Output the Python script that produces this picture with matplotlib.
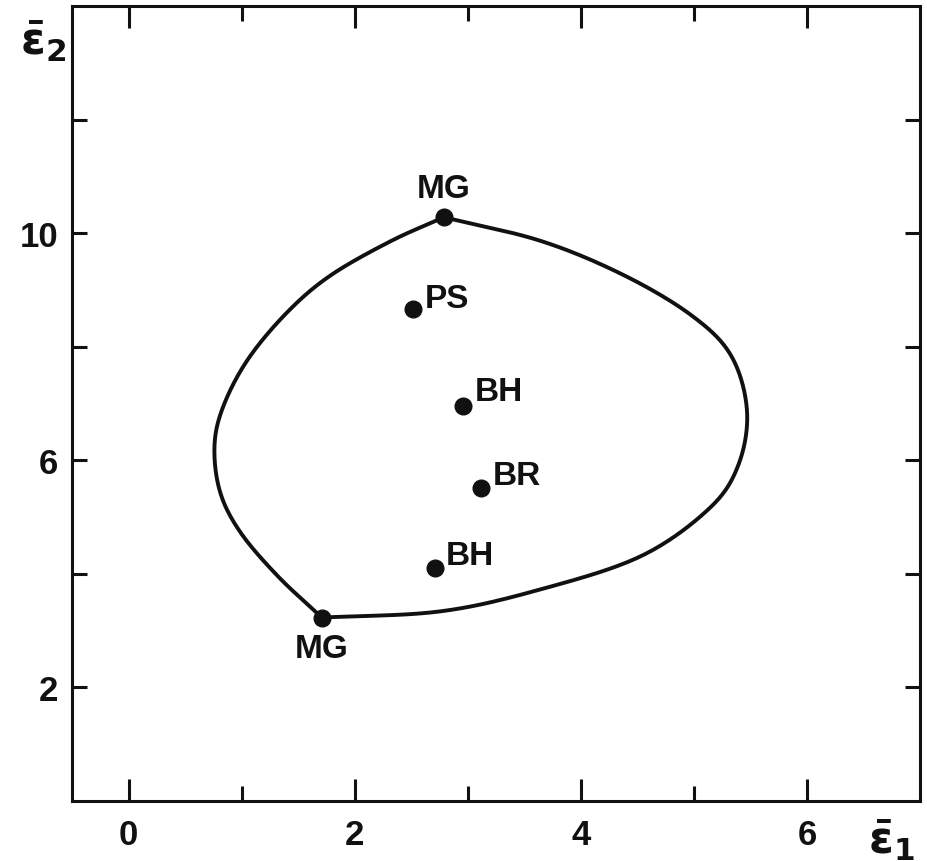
import numpy as np
import matplotlib.pyplot as plt

plt.rcParams['font.family'] = ['Liberation Sans', 'DejaVu Sans']
plt.rcParams['font.weight'] = 'bold'
plt.rcParams['mathtext.fontset'] = 'dejavusans'

# boundary curve; two branches meeting at the MG corners
left_x = [1.71, 1.32, 0.99, 0.81, 0.76, 0.84, 1.06, 1.41, 1.79, 2.32, 2.79]
left_y = [3.23, 3.96, 4.73, 5.44, 6.25, 6.96, 7.79, 8.62, 9.26, 9.86, 10.28]
right_x = [2.79, 3.65, 4.38, 4.98, 5.33, 5.47, 5.39, 5.13, 4.53, 3.65, 2.76, 1.71]
right_y = [10.28, 9.86, 9.26, 8.55, 7.84, 6.86, 5.90, 5.14, 4.31, 3.73, 3.34, 3.23]

# labelled points
pt_names = ['MG', 'PS', 'BH', 'BR', 'BH', 'MG']
pt_x = [2.79, 2.52, 2.96, 3.12, 2.71, 1.71]
pt_y = [10.28, 8.67, 6.96, 5.51, 4.10, 3.23]
offsets = [(0, 21), (8, 7), (8, 10), (8, 9), (8, 9), (0, -22)]
aligns = ['center', 'left', 'left', 'left', 'left', 'center']


def smooth(xs, ys, n=20):
    # catmull-rom through the read points, only to draw the line smoothly
    p = np.column_stack([xs, ys])
    p = np.vstack([2 * p[0] - p[1], p, 2 * p[-1] - p[-2]])
    out = []
    t = np.linspace(0, 1, n, endpoint=False)[:, None]
    for i in range(1, len(p) - 2):
        p0, p1, p2, p3 = p[i - 1], p[i], p[i + 1], p[i + 2]
        out.append(0.5 * (2 * p1 + (-p0 + p2) * t + (2 * p0 - 5 * p1 + 4 * p2 - p3) * t ** 2
                          + (-p0 + 3 * p1 - 3 * p2 + p3) * t ** 3))
    out.append(p[-2][None, :])
    out = np.vstack(out)
    return out[:, 0], out[:, 1]


fig = plt.figure(figsize=(9.28, 8.62), dpi=100)
ax = fig.add_axes([0.0776, 0.0696, 0.9138, 0.9223])

for bx, by in [(left_x, left_y), (right_x, right_y)]:
    sx, sy = smooth(bx, by)
    ax.plot(sx, sy, color='#111111', lw=2.8, solid_capstyle='round')
ax.plot(pt_x, pt_y, 'o', color='#111111', ms=12)
for name, x, y, off, ha in zip(pt_names, pt_x, pt_y, offsets, aligns):
    ax.annotate(name, (x, y), xytext=off, textcoords='offset points',
                ha=ha, va='center', fontsize=24, fontweight='bold', color='#111111')

ax.set_xlim(-0.5, 7)
ax.set_ylim(0, 14)

ax.set_xticks([0, 2, 4, 6])
ax.set_xticks([1, 3, 5], minor=True)
ax.set_xticklabels(['0', '2', '4', '6'])
ax.set_yticks([2, 4, 6, 8, 10, 12])
ax.set_yticklabels(['2', '', '6', '', '10', ''])

ax.tick_params(which='both', direction='in', top=True, right=True, width=2.2, color='#111111')
ax.tick_params(which='major', length=16, labelsize=25, labelcolor='#111111')
ax.tick_params(which='minor', length=11)
ax.tick_params(axis='x', which='major', pad=12)
ax.tick_params(axis='y', which='major', length=11, pad=10)
for lab in ax.get_xticklabels() + ax.get_yticklabels():
    lab.set_fontweight('bold')

for sp in ax.spines.values():
    sp.set_linewidth(2.2)
    sp.set_color('#111111')

fig.text(0.022, 0.952, r'$\bar{\mathbf{\varepsilon}}_\mathbf{2}$', fontsize=32,
         color='#111111', ha='left', va='center')
fig.text(0.935, 0.025, r'$\bar{\mathbf{\varepsilon}}_\mathbf{1}$', fontsize=32,
         color='#111111', ha='left', va='center')

fig.savefig('out.png', dpi=100)
